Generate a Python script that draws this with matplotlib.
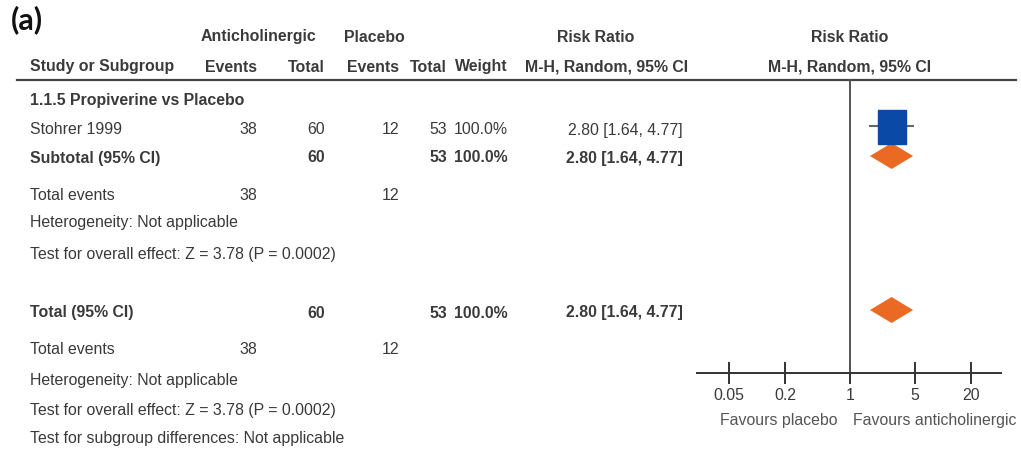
import numpy as np
import matplotlib.pyplot as plt
from matplotlib.path import Path

# data
study = "Stohrer 1999"
subgroup = "1.1.5 Propiverine vs Placebo"
events_tx = 38
total_tx = 60
events_pl = 12
total_pl = 53
weight = 100.0
rr = 2.80
ci_lo = 1.64
ci_hi = 4.77
z_value = 3.78
p_value = 0.0002
tick_vals = [0.05, 0.2, 1, 5, 20]
tick_labels = ["0.05", "0.2", "1", "5", "20"]

W, H = 1021, 449
txt = "#3a3a3a"
fam = ["Liberation Sans Narrow", "Liberation Sans", "DejaVu Sans"]
fs = 11.4
blue = "#0a4aa6"
orange = "#ea6a24"

fig = plt.figure(figsize=(W / 100, H / 100), dpi=100)
ax = fig.add_axes([0, 0, 1, 1])
ax.set_xlim(0, W)
ax.set_ylim(H, 0)
ax.axis("off")


def t(x, y, s, ha="left", bold=False, **kw):
    ax.text(x, y, s, ha=ha, va="center", fontsize=fs, color=txt, family=fam,
            fontweight="bold" if bold else "normal", **kw)


# column right edges
c_ev1, c_tot1, c_ev2, c_tot2, c_w, c_rr = 257, 325, 399, 447, 508, 683
x0 = 30

ax.text(11, 20, "(a)", fontsize=22, color="#111111", family=["Lato", "DejaVu Sans"],
        fontweight="bold", va="center", ha="left")

# headers
t(258, 37, "Anticholinergic", ha="center", bold=True)
t(374, 37, "Placebo", ha="center", bold=True)
t(596, 37, "Risk Ratio", ha="center", bold=True)
t(850, 37, "Risk Ratio", ha="center", bold=True)
t(x0, 67, "Study or Subgroup", bold=True)
t(c_ev1, 67, "Events", ha="right", bold=True)
t(c_tot1, 67, "Total", ha="right", bold=True)
t(c_ev2, 67, "Events", ha="right", bold=True)
t(c_tot2, 67, "Total", ha="right", bold=True)
t(c_w, 67, "Weight", ha="right", bold=True)
t(607, 67, "M-H, Random, 95% CI", ha="center", bold=True)
t(850, 67, "M-H, Random, 95% CI", ha="center", bold=True)
ax.plot([17, 1016], [80, 80], color="#444444", lw=1.6)

rr_txt = f"{rr:.2f} [{ci_lo:.2f}, {ci_hi:.2f}]"
test_txt = f"Test for overall effect: Z = {z_value:.2f} (P = {p_value})"

t(x0, 100, subgroup, bold=True)

# study row
t(x0, 130, study)
t(c_ev1, 130, str(events_tx), ha="right")
t(c_tot1, 130, str(total_tx), ha="right")
t(c_ev2, 130, str(events_pl), ha="right")
t(c_tot2, 130, str(total_pl), ha="right")
t(c_w, 130, f"{weight:.1f}%", ha="right")
t(c_rr, 130, rr_txt, ha="right")

# subtotal block
t(x0, 158, "Subtotal (95% CI)", bold=True)
t(c_tot1, 158, str(total_tx), ha="right", bold=True)
t(c_tot2, 158, str(total_pl), ha="right", bold=True)
t(c_w, 158, f"{weight:.1f}%", ha="right", bold=True)
t(c_rr, 158, rr_txt, ha="right", bold=True)
t(x0, 195, "Total events")
t(c_ev1, 195, str(events_tx), ha="right")
t(c_ev2, 195, str(events_pl), ha="right")
t(x0, 223, "Heterogeneity: Not applicable")
t(x0, 254, test_txt)

# total block
t(x0, 313, "Total (95% CI)", bold=True)
t(c_tot1, 313, str(total_tx), ha="right", bold=True)
t(c_tot2, 313, str(total_pl), ha="right", bold=True)
t(c_w, 313, f"{weight:.1f}%", ha="right", bold=True)
t(c_rr, 313, rr_txt, ha="right", bold=True)
t(x0, 349, "Total events")
t(c_ev1, 349, str(events_tx), ha="right")
t(c_ev2, 349, str(events_pl), ha="right")
t(x0, 380, "Heterogeneity: Not applicable")
t(x0, 410, test_txt)
t(x0, 438, "Test for subgroup differences: Not applicable")

# forest panel: log axis placed over pixels 697..1001
px_per_dec = 93.0
x_left, x_right, x_one = 697, 1001, 850
fx = fig.add_axes([x_left / W, 0, (x_right - x_left) / W, 1])
fx.set_xscale("log")
fx.set_xlim(10 ** ((x_left - x_one) / px_per_dec), 10 ** ((x_right - x_one) / px_per_dec))
fx.set_ylim(H, 0)
fx.patch.set_alpha(0)
for s in ["top", "right", "left"]:
    fx.spines[s].set_visible(False)
fx.spines["bottom"].set_position(("data", 373))
fx.spines["bottom"].set_color("#333333")
fx.spines["bottom"].set_linewidth(1.4)
fx.set_yticks([])
fx.set_xticks(tick_vals)
fx.set_xticklabels(tick_labels)
fx.xaxis.set_minor_locator(plt.NullLocator())
fx.tick_params(axis="x", direction="inout", length=16, width=1.4, color="#333333",
               labelsize=fs, labelcolor=txt, pad=3)
for lab in fx.get_xticklabels():
    lab.set_family(fam)

fx.plot([1, 1], [80, 373], color="#555555", lw=1.4)

# study estimate
fx.plot([ci_lo, ci_hi], [126, 126], color="#666666", lw=1.5)
rect = Path([(-0.78, -1), (0.78, -1), (0.78, 1), (-0.78, 1), (-0.78, -1)])
fx.plot([rr], [127], marker=rect, markersize=25, color=blue, mec=blue, ls="none")

# pooled diamonds
for yc in [156, 310]:
    fx.fill([ci_lo, rr, ci_hi, rr], [yc, yc - 13, yc, yc + 13], color=orange, lw=0)

fx.text(0.172, 420, "Favours placebo", ha="center", va="center", fontsize=fs,
        color="#555555", family=fam)
fx.text(8.2, 420, "Favours anticholinergic", ha="center", va="center", fontsize=fs,
        color="#555555", family=fam)

fig.savefig("out.png", dpi=100)
